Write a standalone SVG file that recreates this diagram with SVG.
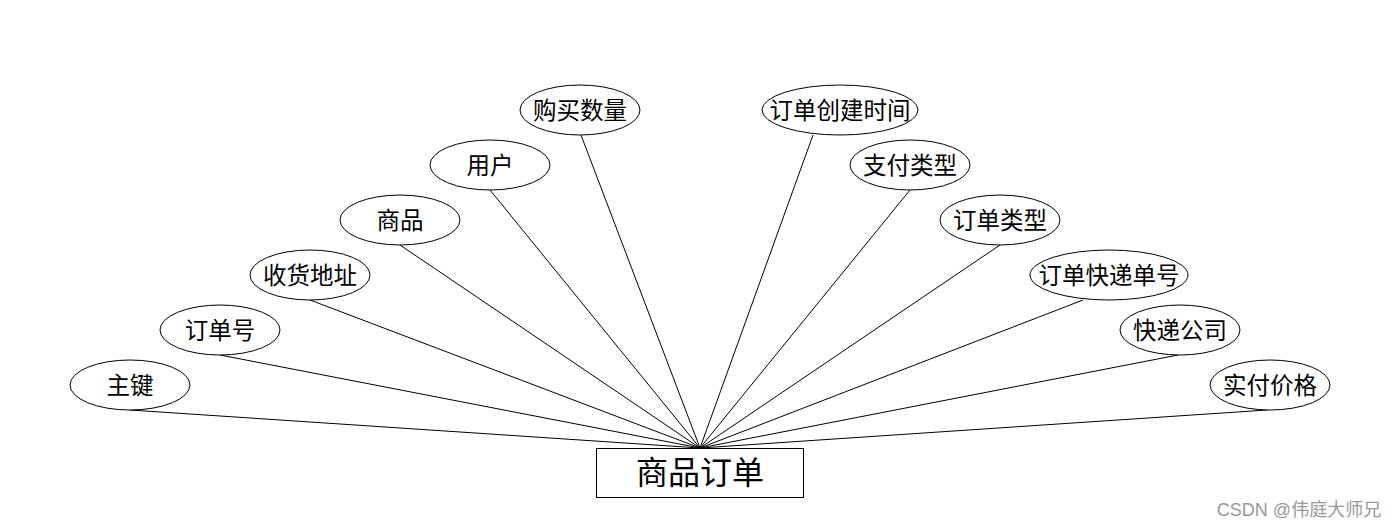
<svg xmlns="http://www.w3.org/2000/svg" width="1400" height="528" viewBox="0 0 1400 528">
<style>
.attr ellipse{fill:#fff;stroke:#000;stroke-width:1}
.lbl{font-family:"Liberation Sans","Noto Sans CJK SC",sans-serif;font-size:23.5px;fill:#000;text-anchor:middle;dominant-baseline:central}
.conn line{stroke:#000;stroke-width:1}
</style>
<rect width="1400" height="528" fill="#fff"/>
<g class="conn">
<line x1="130" y1="410" x2="700" y2="448"/>
<line x1="220" y1="355" x2="700" y2="448"/>
<line x1="310" y1="300" x2="700" y2="448"/>
<line x1="400" y1="245" x2="700" y2="448"/>
<line x1="490" y1="190" x2="700" y2="448"/>
<line x1="581" y1="135" x2="700" y2="448"/>
<line x1="813" y1="135" x2="700" y2="448"/>
<line x1="910" y1="190" x2="700" y2="448"/>
<line x1="1000" y1="245" x2="700" y2="448"/>
<line x1="1083" y1="300" x2="700" y2="448"/>
<line x1="1178" y1="355" x2="700" y2="448"/>
<line x1="1267" y1="410" x2="700" y2="448"/>
</g>
<g id="n1" class="attr"><ellipse cx="130" cy="385" rx="60" ry="25"/><text class="lbl" x="130" y="386">主键</text></g>
<g id="n2" class="attr"><ellipse cx="220" cy="330" rx="60" ry="25"/><text class="lbl" x="220" y="331">订单号</text></g>
<g id="n3" class="attr"><ellipse cx="310" cy="275" rx="60" ry="25"/><text class="lbl" x="310" y="276">收货地址</text></g>
<g id="n4" class="attr"><ellipse cx="400" cy="220" rx="60" ry="25"/><text class="lbl" x="400" y="221">商品</text></g>
<g id="n5" class="attr"><ellipse cx="490" cy="165" rx="60" ry="25"/><text class="lbl" x="490" y="166">用户</text></g>
<g id="n6" class="attr"><ellipse cx="580" cy="110" rx="60" ry="25"/><text class="lbl" x="580" y="111">购买数量</text></g>
<g id="n7" class="attr"><ellipse cx="840" cy="110" rx="78" ry="25"/><text class="lbl" x="840" y="111">订单创建时间</text></g>
<g id="n8" class="attr"><ellipse cx="910" cy="165" rx="60" ry="25"/><text class="lbl" x="910" y="166">支付类型</text></g>
<g id="n9" class="attr"><ellipse cx="1000" cy="220" rx="60" ry="25"/><text class="lbl" x="1000" y="221">订单类型</text></g>
<g id="n10" class="attr"><ellipse cx="1109" cy="275" rx="79" ry="25"/><text class="lbl" x="1109" y="276">订单快递单号</text></g>
<g id="n11" class="attr"><ellipse cx="1180" cy="330" rx="60" ry="25"/><text class="lbl" x="1180" y="331">快递公司</text></g>
<g id="n12" class="attr"><ellipse cx="1270" cy="385" rx="60" ry="25"/><text class="lbl" x="1270" y="386">实付价格</text></g>
<g id="entity"><rect x="596.500" y="448.500" width="207" height="49" fill="#fff" stroke="#000"/><text x="700" y="473" font-family="Liberation Sans,'Noto Sans CJK SC',sans-serif" font-size="32" text-anchor="middle" dominant-baseline="central">商品订单</text></g>
<text x="1299" y="510" font-family="Liberation Sans,'Noto Sans CJK SC',sans-serif" font-size="18" fill="#999" text-anchor="middle" dominant-baseline="central">CSDN @伟庭大师兄</text>
</svg>
